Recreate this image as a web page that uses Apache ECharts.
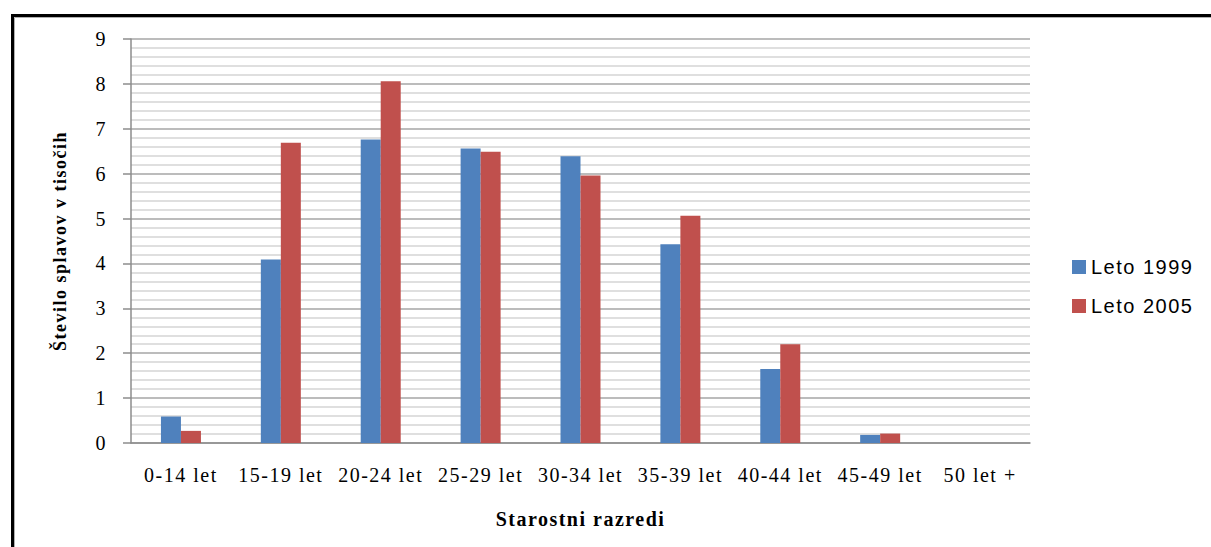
<!DOCTYPE html>
<html>
<head>
<meta charset="utf-8">
<script src="https://cdn.jsdelivr.net/npm/echarts@6/dist/echarts.min.js"></script>
<style>
  html, body { margin: 0; padding: 0; background: #fff; }
  #chart { width: 1211px; height: 547px; }
  /* loose tracking on all chart labels */
  #chart svg text { letter-spacing: 1.5px; }
</style>
</head>
<body>
<div id="chart"></div>
<script>
// Age classes on the category axis
const categories = ['0-14 let', '15-19 let', '20-24 let', '25-29 let', '30-34 let', '35-39 let', '40-44 let', '45-49 let', '50 let +'];
// Number of abortions (thousands) per age class
const leto1999 = [0.59, 4.09, 6.76, 6.56, 6.39, 4.43, 1.65, 0.18, 0];
const leto2005 = [0.27, 6.69, 8.06, 6.49, 5.96, 5.06, 2.20, 0.21, 0];
// Value axis ticks
const yTicks = [0, 1, 2, 3, 4, 5, 6, 7, 8, 9];

const serif = '"Liberation Serif", "Times New Roman", serif';
const sans = '"Liberation Sans", Arial, sans-serif';

const chart = echarts.init(document.getElementById('chart'), null, { renderer: 'svg' });

chart.setOption({
  animation: false,
  backgroundColor: '#ffffff',
  graphic: [
    {
      type: 'rect',
      shape: { x: 12.5, y: 15.5, width: 1260, height: 600 },
      style: { fill: null, stroke: '#000000', lineWidth: 3 },
      silent: true
    },
    {
      type: 'rect',
      shape: { x: 14.5, y: 17.5, width: 1260, height: 600 },
      style: { fill: null, stroke: '#b0b0b0', lineWidth: 1 },
      silent: true
    }
  ],
  grid: { left: 131, right: 181, top: 39, bottom: 104, containLabel: false },
  legend: {
    orient: 'vertical',
    left: 1067,
    top: 252,
    itemWidth: 14,
    itemHeight: 14,
    itemGap: 19,
    icon: 'rect',
    textStyle: { fontFamily: sans, fontSize: 20, color: '#000' },
    data: ['Leto 1999', 'Leto 2005']
  },
  xAxis: {
    type: 'category',
    data: categories,
    name: 'Starostni razredi',
    nameLocation: 'middle',
    nameGap: 66,
    nameTextStyle: { fontFamily: serif, fontSize: 20, fontWeight: 'bold', color: '#000', verticalAlign: 'top' },
    axisLine: { show: true, lineStyle: { color: '#8c8c8c', width: 1.5 } },
    axisTick: { show: false },
    axisLabel: { margin: 22, fontFamily: serif, fontSize: 20, color: '#000', interval: 0 }
  },
  yAxis: {
    type: 'value',
    min: 0,
    max: 9,
    interval: 1,
    name: 'Število splavov v tisočih',
    nameLocation: 'middle',
    nameGap: 62,
    nameRotate: 90,
    nameTextStyle: { fontFamily: serif, fontSize: 18, fontWeight: 'bold', color: '#000' },
    axisLine: { show: true, lineStyle: { color: '#8c8c8c', width: 1.5 } },
    axisTick: { show: true, inside: false, length: 8, lineStyle: { color: '#8c8c8c', width: 1.5 } },
    axisLabel: {
      margin: 24,
      fontFamily: serif,
      fontSize: 20,
      color: '#000',
      formatter: v => (yTicks.includes(v) ? String(v) : '')
    },
    splitLine: { show: true, lineStyle: { color: '#a6a6a6', width: 1.5 } },
    minorTick: { show: false, splitNumber: 5 },
    minorSplitLine: { show: true, lineStyle: { color: '#d4d4d4', width: 1.5 } }
  },
  series: [
    {
      name: 'Leto 1999',
      type: 'bar',
      data: leto1999,
      barWidth: 20,
      barGap: '0%',
      itemStyle: { color: '#4F81BD' }
    },
    {
      name: 'Leto 2005',
      type: 'bar',
      data: leto2005,
      barWidth: 20,
      barGap: '0%',
      itemStyle: { color: '#C0504D' }
    }
  ]
});
</script>
</body>
</html>
